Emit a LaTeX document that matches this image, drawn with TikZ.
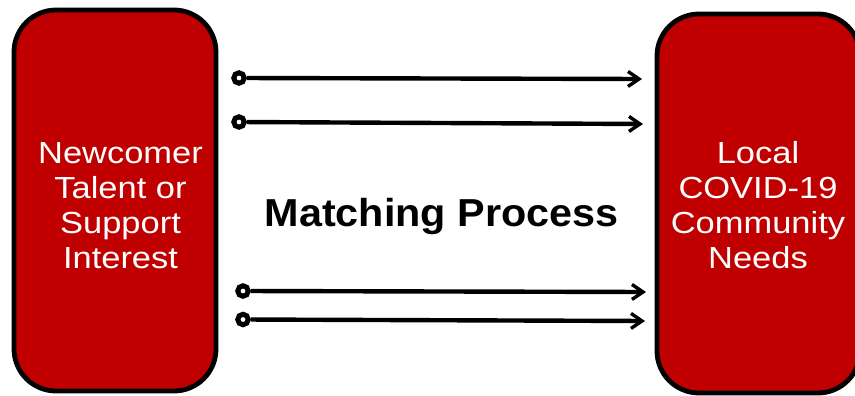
\documentclass[tikz,border=0pt]{standalone}
\usepackage{fontspec}
\setmainfont{Liberation Sans}
\newfontfamily\boxfont[FakeStretch=1.13]{Liberation Sans}
\newfontfamily\titlefont[FakeStretch=1.06]{Liberation Sans}
\usetikzlibrary{arrows.meta}
\definecolor{boxred}{RGB}{192,0,0}
\begin{document}
\begin{tikzpicture}[x=1pt,y=-1pt,
  bigbox/.style={draw=black, fill=boxred, line width=4.8pt, rounded corners=42pt, inner sep=0pt},
  boxlabel/.style={text=white, align=center, inner sep=0pt, font=\boxfont\fontsize{30.5}{35}\selectfont},
  startdot/.style={circle, draw=black, fill=white, line width=5pt, minimum size=10.5pt, inner sep=0pt},
  link/.style={draw=black, line width=4.4pt, -{Straight Barb[length=11pt,width=15pt,line width=3.4pt]}}
]
\useasboundingbox (0,0) rectangle (855,396);
\clip (0,0) rectangle (855,396);
\fill[white] (0,0) rectangle (855,396);
\node[bigbox, minimum width=202pt, minimum height=381pt] (lbox) at (115,200.5) {};
\node[bigbox, minimum width=203pt, minimum height=379pt] (rbox) at (758.5,203.5) {};
\node[boxlabel] (ltext) at (120.5,205.5) {Newcomer\\Talent or\\Support\\Interest};
\node[boxlabel] (rtext) at (758,205.5) {Local\\COVID-19\\Community\\Needs};
\node[anchor=base, inner sep=0pt, font=\titlefont\bfseries\fontsize{39}{44}\selectfont] (title) at (441.5,226.7) {Matching Process};
\node[startdot] (s1) at (239,78) {};
\node[startdot] (s2) at (239,122) {};
\node[startdot] (s3) at (243,291) {};
\node[startdot] (s4) at (243,319.5) {};
\coordinate (e1) at (642,79);
\coordinate (e2) at (643,124);
\coordinate (e3) at (646,292);
\coordinate (e4) at (645,321);
\draw[link] (s1) -- (e1);
\draw[link] (s2) -- (e2);
\draw[link] (s3) -- (e3);
\draw[link] (s4) -- (e4);
\end{tikzpicture}
\end{document}
